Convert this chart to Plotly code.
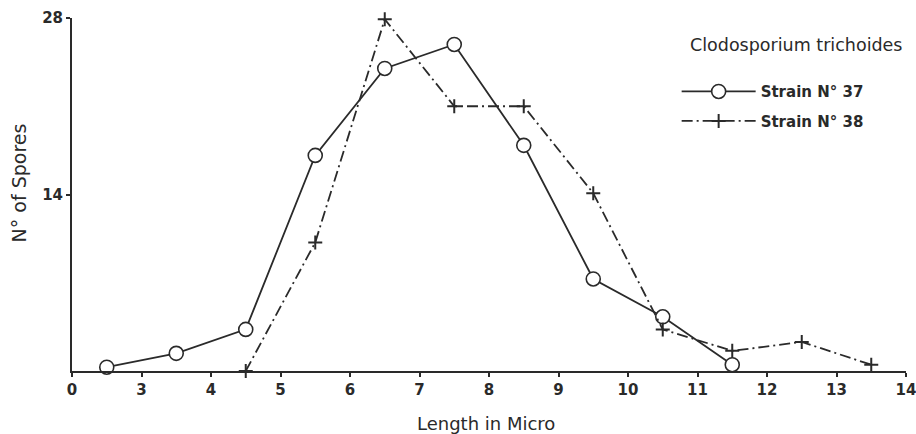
import plotly.graph_objects as go

# Data
length_37 = [2.5, 3.5, 4.5, 5.5, 6.5, 7.5, 8.5, 9.5, 10.5, 11.5]
spores_37 = [0.3, 1.4, 3.3, 17.1, 24.0, 25.9, 17.9, 7.3, 4.3, 0.5]

length_38 = [4.5, 5.5, 6.5, 7.5, 8.5, 9.5, 10.5, 11.5, 12.5, 13.5]
spores_38 = [0.0, 10.2, 27.9, 21.0, 21.0, 14.1, 3.3, 1.6, 2.3, 0.5]

x_tickvals = [2, 3, 4, 5, 6, 7, 8, 9, 10, 11, 12, 13, 14]
x_ticktext = ["0", "3", "4", "5", "6", "7", "8", "9", "10", "11", "12", "13", "14"]
y_tickvals = [14, 28]
y_ticktext = ["14", "28"]

ink = "#2a2a2a"
font_family = "DejaVu Sans"

fig = go.Figure()
fig.add_trace(go.Scatter(
    x=length_37, y=spores_37, mode="lines+markers", name="Strain N° 37",
    legendgroup="a",
    line=dict(color=ink, width=1.8),
    marker=dict(symbol="circle", size=14, color="white", line=dict(color=ink, width=1.6)),
    cliponaxis=False,
))
fig.add_trace(go.Scatter(
    x=length_38, y=spores_38, mode="lines+markers", name="Strain N° 38",
    legendgroup="b",
    line=dict(color=ink, width=1.8, dash="11px,4px,2px,4px"),
    marker=dict(symbol="cross-thin", size=10, color=ink, line=dict(color=ink, width=2)),
    cliponaxis=False,
))

fig.update_layout(
    width=916, height=434,
    margin=dict(l=72, r=10, t=18, b=63),
    paper_bgcolor="white", plot_bgcolor="white",
    font=dict(family=font_family, color=ink, size=13),
    showlegend=True,
    legend=dict(
        x=0.725, y=0.838, xanchor="left", yanchor="top",
        font=dict(size=15, color=ink, weight="bold"),
        tracegroupgap=7, itemwidth=74,
        bgcolor="rgba(0,0,0,0)",
    ),
    xaxis=dict(
        range=[2, 14], tickvals=x_tickvals, ticktext=x_ticktext, automargin=False,
        showline=True, linecolor=ink, linewidth=2, showgrid=False, zeroline=False,
        ticks="outside", ticklen=4, tickwidth=1.5, tickcolor=ink,
        ticklabeloverflow="allow",
        tickfont=dict(size=15, color=ink, family=font_family, weight="bold"),
    ),
    yaxis=dict(
        range=[0, 28], tickvals=y_tickvals, ticktext=y_ticktext, automargin=False,
        showline=True, linecolor=ink, linewidth=2, showgrid=False, zeroline=False,
        ticks="outside", ticklen=4, tickwidth=1.5, tickcolor=ink,
        ticklabeloverflow="allow",
        tickfont=dict(size=15, color=ink, family=font_family, weight="bold"),
    ),
    annotations=[
        dict(text="Length in Micro", xref="paper", yref="paper", x=0.496, y=-0.112,
             xanchor="center", yanchor="top", showarrow=False,
             font=dict(size=18, color=ink)),
        dict(text="N° of Spores", xref="paper", yref="paper", x=-0.064, y=0.533,
             xanchor="center", yanchor="middle", textangle=-90, showarrow=False,
             font=dict(size=19, color=ink)),
        dict(text="Clodosporium trichoides", xref="paper", yref="paper", x=0.739, y=0.9235,
             xanchor="left", yanchor="middle", showarrow=False,
             font=dict(size=17.5, color=ink)),
    ],
)

fig.write_html("out.html", config={"displayModeBar": False},
               post_script="document.body.style.margin='0';")
